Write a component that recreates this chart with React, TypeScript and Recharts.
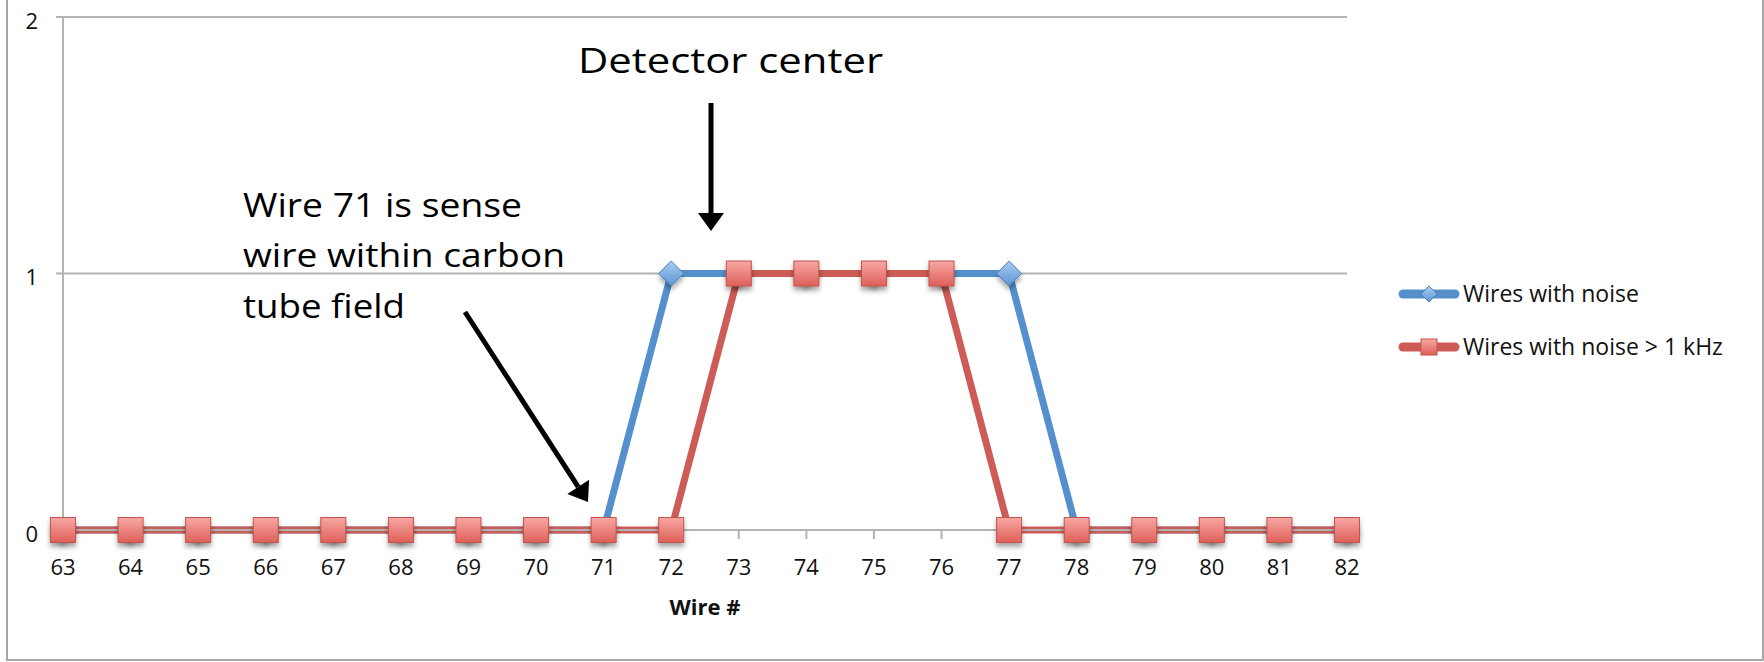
import React from "react";
import { LineChart, Line, XAxis, YAxis, CartesianGrid, Legend } from "recharts";

const wires = [63, 64, 65, 66, 67, 68, 69, 70, 71, 72, 73, 74, 75, 76, 77, 78, 79, 80, 81, 82];
const wiresWithNoise = [0, 0, 0, 0, 0, 0, 0, 0, 0, 1, 1, 1, 1, 1, 1, 0, 0, 0, 0, 0];
const wiresWithNoise1k = [0, 0, 0, 0, 0, 0, 0, 0, 0, 0, 1, 1, 1, 1, 0, 0, 0, 0, 0, 0];
const yTicks = [0, 1, 2];
const seriesNames = ["Wires with noise", "Wires with noise > 1 kHz"];

const data = wires.map((w, i) => ({
  wire: String(w),
  noise: wiresWithNoise[i],
  noise1k: wiresWithNoise1k[i],
}));

const FONT = "'Open Sans', 'DejaVu Sans', sans-serif";
const GRID = "#b3b3b3";
const BLUE = "#5590cc";
const RED = "#cc5c55";

const Square = (props: any) => {
  const { cx, cy, key } = props;
  if (cx == null || cy == null) return null;
  const s = 25;
  return (
    <rect
      key={key}
      x={cx - s / 2}
      y={cy - s / 2}
      width={s}
      height={s}
      fill="url(#redGrad)"
      stroke="#c2524d"
      strokeWidth={1}
      filter="url(#mShadow)"
    />
  );
};

const Diamond = (props: any) => {
  const { cx, cy, key } = props;
  if (cx == null || cy == null) return null;
  const r = 12.5;
  return (
    <polygon
      key={key}
      points={`${cx},${cy - r} ${cx + r},${cy} ${cx},${cy + r} ${cx - r},${cy}`}
      fill="url(#blueGrad)"
      stroke="#4f81bd"
      strokeWidth={1}
      filter="url(#mShadow)"
    />
  );
};

const YTick = (props: any) => {
  const { x, y, payload } = props;
  return (
    <text x={x} y={y + 4} dy="0.355em" textAnchor="end" fontFamily={FONT} fontSize={22} fill="#111">
      {payload.value}
    </text>
  );
};

const LegendContent = () => (
  <svg width={360} height={100} style={{ overflow: "visible" }}>
    <g>
      <line x1={7} y1={24} x2={59} y2={24} stroke={BLUE} strokeWidth={9} strokeLinecap="round" />
      <polygon points="33,16 41,24 33,32 25,24" fill="url(#blueGrad)" stroke="#4f81bd" strokeWidth={1} />
      <text x={67} y={24} dy="0.36em" fontFamily={FONT} fontSize={23} fill="#111">
        {seriesNames[0]}
      </text>
    </g>
    <g>
      <line x1={7} y1={77} x2={59} y2={77} stroke={RED} strokeWidth={9} strokeLinecap="round" />
      <rect x={25} y={69} width={16} height={16} fill="url(#redGrad)" stroke="#c2524d" strokeWidth={1} />
      <text x={67} y={77} dy="0.36em" fontFamily={FONT} fontSize={23} fill="#111">
        {seriesNames[1]}
      </text>
    </g>
  </svg>
);

function arrowHead(x1: number, y1: number, x2: number, y2: number, len = 18, half = 13) {
  const dx = x2 - x1;
  const dy = y2 - y1;
  const L = Math.hypot(dx, dy);
  const ux = dx / L;
  const uy = dy / L;
  const bx = x2 - ux * len;
  const by = y2 - uy * len;
  const px = -uy;
  const py = ux;
  return {
    bx,
    by,
    points: `${x2},${y2} ${bx + px * half},${by + py * half} ${bx - px * half},${by - py * half}`,
  };
}

export default function App() {
  const a1 = arrowHead(465, 312, 588, 502);
  const a2 = arrowHead(711, 103, 711, 231);
  return (
    <div style={{ position: "absolute", left: 0, top: 0, width: 1764, height: 662, background: "#fff" }}>
      <svg width={0} height={0} style={{ position: "absolute" }}>
        <defs>
          <linearGradient id="redGrad" x1="0" y1="0" x2="0" y2="1">
            <stop offset="0%" stopColor="#f7a8a4" />
            <stop offset="100%" stopColor="#df5f59" />
          </linearGradient>
          <linearGradient id="blueGrad" x1="0" y1="0" x2="0" y2="1">
            <stop offset="0%" stopColor="#a9cdf3" />
            <stop offset="100%" stopColor="#5d95d3" />
          </linearGradient>
          <filter id="mShadow" x="-50%" y="-50%" width="200%" height="200%">
            <feDropShadow dx="0" dy="4" stdDeviation="2.5" floodColor="#000" floodOpacity="0.35" />
          </filter>
        </defs>
      </svg>
      <LineChart
        width={1764}
        height={662}
        data={data}
        margin={{ top: 17, right: 417, bottom: 42, left: 13 }}
      >
        <CartesianGrid horizontal vertical={false} stroke={GRID} strokeWidth={2} />
        <XAxis
          dataKey="wire"
          type="category"
          height={90}
          interval={0}
          axisLine={{ stroke: GRID, strokeWidth: 2 }}
          tickLine={{ stroke: GRID, strokeWidth: 2 }}
          tickSize={9}
          tickMargin={20}
          tick={{ fontFamily: FONT, fontSize: 22, fill: "#111" }}
          label={{
            value: "Wire #",
            position: "insideBottom",
            offset: 5,
            fontFamily: FONT,
            fontSize: 22,
            fontWeight: 700,
            fill: "#111",
          }}
        />
        <YAxis
          width={50}
          domain={[0, 2]}
          ticks={yTicks}
          interval={0}
          axisLine={{ stroke: GRID, strokeWidth: 2 }}
          tickLine={{ stroke: GRID, strokeWidth: 2 }}
          tickSize={7}
          tickMargin={18}
          tick={<YTick />}
        />
        <Legend
          layout="vertical"
          align="center"
          verticalAlign="middle"
          content={<LegendContent />}
          wrapperStyle={{ left: 1396, top: 270, width: 360, height: 100 }}
        />
        <Line
          dataKey="noise"
          name={seriesNames[0]}
          stroke={BLUE}
          strokeWidth={7}
          dot={<Diamond />}
          activeDot={false}
          isAnimationActive={false}
        />
        <Line
          dataKey="noise1k"
          name={seriesNames[1]}
          stroke={RED}
          strokeWidth={7}
          dot={<Square />}
          activeDot={false}
          isAnimationActive={false}
        />
      </LineChart>
      <svg
        width={1764}
        height={662}
        style={{ position: "absolute", left: 0, top: 0, pointerEvents: "none" }}
      >
        <rect x={7} y={-10} width={1756} height={670} fill="none" stroke="#a6a6a6" strokeWidth={2} />
        <text x={578} y={73} fontFamily={FONT} fontSize={34} fill="#000" textLength={305} lengthAdjust="spacingAndGlyphs">
          Detector center
        </text>
        <line x1={711} y1={103} x2={a2.bx} y2={a2.by} stroke="#000" strokeWidth={5} />
        <polygon points={a2.points} fill="#000" />
        <text x={243} y={217} fontFamily={FONT} fontSize={33} fill="#000" textLength={279} lengthAdjust="spacingAndGlyphs">
          Wire 71 is sense
        </text>
        <text x={243} y={267} fontFamily={FONT} fontSize={33} fill="#000" textLength={322} lengthAdjust="spacingAndGlyphs">
          wire within carbon
        </text>
        <text x={243} y={318} fontFamily={FONT} fontSize={33} fill="#000" textLength={162} lengthAdjust="spacingAndGlyphs">
          tube field
        </text>
        <line x1={465} y1={312} x2={a1.bx} y2={a1.by} stroke="#000" strokeWidth={5} />
        <polygon points={a1.points} fill="#000" />
      </svg>
    </div>
  );
}
